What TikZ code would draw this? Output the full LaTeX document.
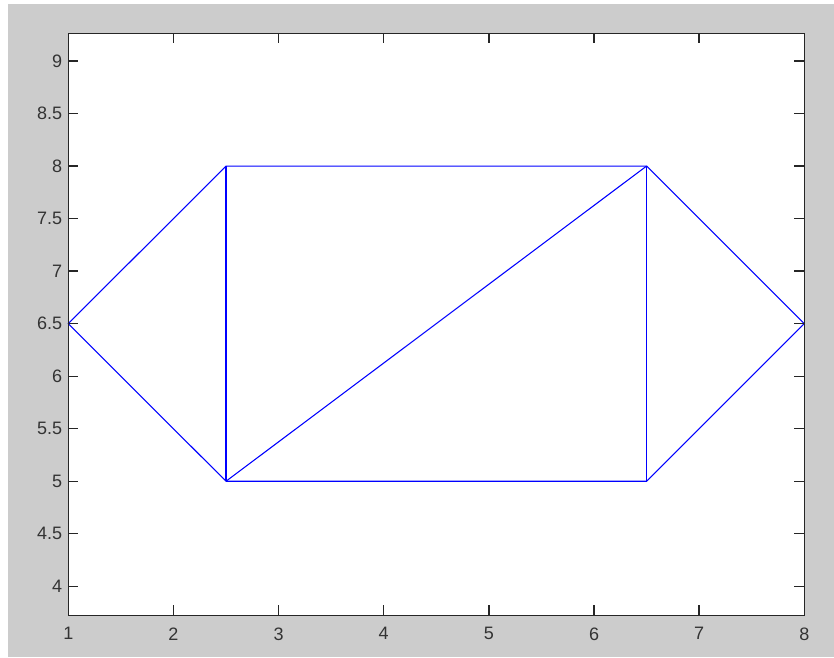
\documentclass[tikz,border=0pt]{standalone}
\usepackage{fontspec}
\setmainfont{Liberation Sans}
\begin{document}
\begin{tikzpicture}[x=0.75pt,y=0.75pt,
  axisline/.style={draw=black!85,line width=1.1pt},
  tickmark/.style={draw=black!85,line width=1pt},
  plotline/.style={draw=blue,line width=0.8pt,line join=miter},
  ticklabel/.style={text=black!80,font=\fontsize{13.5}{14}\selectfont,inner sep=0pt}]
\useasboundingbox (0,0) rectangle (834,657);
\fill[white] (0,0) rectangle (834,657);
\fill[black!20] (8,0) rectangle (834,653);
% axes box
\fill[white] (68.3,41.7) rectangle (804.3,623.7);
% data scope: X = 68.3 + (x-1)*105.14, Y = 70.7 + (y-4)*105.06
\begin{scope}[shift={(68.3-105.14,70.7-4*105.06)},x=105.14*0.75pt,y=105.06*0.75pt]
  \coordinate (A) at (1,6.5);
  \coordinate (B) at (2.5,8);
  \coordinate (C) at (6.5,8);
  \coordinate (D) at (8,6.5);
  \coordinate (E) at (6.5,5);
  \coordinate (F) at (2.5,5);
  \draw[plotline] (A) -- (B) -- (C) -- (D) -- (E) -- (F) -- cycle;
  \draw[plotline] (B) -- (F);
  \draw[plotline] (C) -- (E);
  \draw[plotline] (F) -- (C);
  % ticks
  \foreach \t in {1,...,8} {
    \draw[tickmark] (\t,3.7243) -- ++(0,7.5pt*0.75/0.75);
    \draw[tickmark] (\t,9.2634) -- ++(0,-7.5pt);
    \node[ticklabel,anchor=north] (xl\t) at ([yshift=-9pt]\t,3.7243) {\t};
  }
  \foreach \t/\l in {4/4,4.5/4.5,5/5,5.5/5.5,6/6,6.5/6.5,7/7,7.5/7.5,8/8,8.5/8.5,9/9} {
    \draw[tickmark] (1,\t) -- ++(7.5pt,0);
    \draw[tickmark] (8,\t) -- ++(-7.5pt,0);
    \node[ticklabel,anchor=east] at ([xshift=-4.5pt]1,\t) {\l};
  }
  \draw[axisline] (1,3.7243) rectangle (8,9.2634);
\end{scope}
\end{tikzpicture}
\end{document}
